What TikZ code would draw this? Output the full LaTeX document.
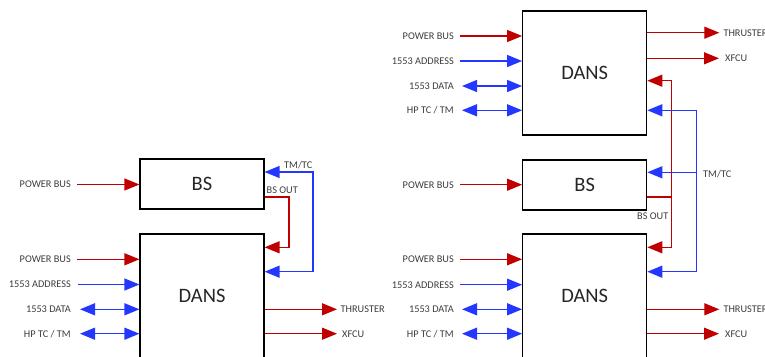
\documentclass[tikz,border=0pt]{standalone}
\usepackage{fontspec}
\setmainfont{Carlito}
\usetikzlibrary{arrows.meta}
\definecolor{myred}{RGB}{192,0,0}
\definecolor{myblue}{RGB}{35,55,255}
\definecolor{txt}{RGB}{60,60,60}
\begin{document}
\begin{tikzpicture}[x=1pt,y=-1pt,
  box/.style={draw=black,line width=1.2pt,inner sep=0,minimum width=124pt,
    font=\fontsize{20.5}{24}\selectfont,text=black!85},
  dbox/.style={box,minimum height=124pt},
  sbox/.style={box,minimum height=50pt},
  lab/.style={font=\fontsize{10.3}{12}\selectfont,text=txt,inner sep=0,
    text height=6.6pt,text depth=0pt},
  tip/.tip={Triangle[length=15pt,width=12pt]},
  redarr/.style={draw=myred,line width=1.3pt,-tip},
  bluearr/.style={draw=myblue,line width=1.3pt,-tip},
  biarr/.style={draw=myblue,line width=1.3pt,tip-tip},
  redline/.style={draw=myred,line width=1.3pt},
]
\useasboundingbox (0,0) rectangle (765,356);
\clip (0,0) rectangle (765,356);

% ---------------- left diagram ----------------
\node[sbox] (bs1) at (202,184) {BS};
\node[dbox] (dans1) at (202,296) {DANS};

\node[lab,anchor=east] (lp0) at (71,184.5) {POWER BUS};
\draw[redarr] ([xshift=6pt]lp0.east) -- (lp0.east -| bs1.west);

\node[lab,anchor=east] (lp1) at (71,259.3) {POWER BUS};
\node[lab,anchor=east] (la1) at (71,284.5) {1553 ADDRESS};
\node[lab,anchor=east] (ld1) at (71,309.3) {1553 DATA};
\node[lab,anchor=east] (lh1) at (71,333.7) {HP TC / TM};
\draw[redarr] ([xshift=6pt]lp1.east) -- (lp1.east -| dans1.west);
\draw[bluearr] ([xshift=7pt]la1.east) -- (la1.east -| dans1.west);
\draw[biarr] ([xshift=9pt]ld1.east) -- (ld1.east -| dans1.west);
\draw[biarr] ([xshift=9pt]lh1.east) -- (lh1.east -| dans1.west);

\node[lab,anchor=west] (lt1) at (340.5,309.3) {THRUSTER};
\node[lab,anchor=west] (lx1) at (342,333.7) {XFCU};
\draw[redarr] (lt1.west -| dans1.east) -- ([xshift=-3.5pt]lt1.west);
\draw[redarr] (lx1.west -| dans1.east) -- ([xshift=-5pt]lx1.west);

\coordinate (lr1) at (289,197);
\coordinate (lr2) at (289,247.3);
\draw[redarr] (lr1 -| bs1.east) -- (lr1) -- (lr2) -- (lr2 -| dans1.east);
\node[lab,anchor=south west] (lbo) at (266.5,193.3) {BS OUT};

\coordinate (lb1) at (313,172);
\coordinate (lb2) at (313,271.7);
\draw[biarr] (lb1 -| bs1.east) -- (lb1) -- (lb2) -- (lb2 -| dans1.east);
\node[lab,anchor=south east] (ltm) at (312.5,168.6) {TM/TC};

% ---------------- right diagram ----------------
\node[dbox] (dans2) at (584.7,73) {DANS};
\node[sbox] (bs2) at (584.7,185) {BS};
\node[dbox] (dans3) at (584.7,296) {DANS};

\node[lab,anchor=east] (rp2) at (454,36) {POWER BUS};
\node[lab,anchor=east] (ra2) at (454,61) {1553 ADDRESS};
\node[lab,anchor=east] (rd2) at (454,86) {1553 DATA};
\node[lab,anchor=east] (rh2) at (454,110.3) {HP TC / TM};
\draw[redarr] ([xshift=6pt]rp2.east) -- (rp2.east -| dans2.west);
\draw[bluearr] ([xshift=6pt]ra2.east) -- (ra2.east -| dans2.west);
\draw[biarr] ([xshift=8pt]rd2.east) -- (rd2.east -| dans2.west);
\draw[biarr] ([xshift=8pt]rh2.east) -- (rh2.east -| dans2.west);

\node[lab,anchor=west] (rt2) at (723.3,32.7) {THRUSTER};
\node[lab,anchor=west] (rx2) at (725,58.3) {XFCU};
\draw[redarr] (rt2.west -| dans2.east) -- ([xshift=-4pt]rt2.west);
\draw[redarr] (rx2.west -| dans2.east) -- ([xshift=-6pt]rx2.west);

\node[lab,anchor=east] (rpb) at (454,184.7) {POWER BUS};
\draw[redarr] ([xshift=6pt]rpb.east) -- (rpb.east -| bs2.west);

\node[lab,anchor=east] (rp3) at (454,259.3) {POWER BUS};
\node[lab,anchor=east] (ra3) at (454,284.7) {1553 ADDRESS};
\node[lab,anchor=east] (rd3) at (454,309.3) {1553 DATA};
\node[lab,anchor=east] (rh3) at (454,333.7) {HP TC / TM};
\draw[redarr] ([xshift=6pt]rp3.east) -- (rp3.east -| dans3.west);
\draw[bluearr] ([xshift=6pt]ra3.east) -- (ra3.east -| dans3.west);
\draw[biarr] ([xshift=8pt]rd3.east) -- (rd3.east -| dans3.west);
\draw[biarr] ([xshift=8pt]rh3.east) -- (rh3.east -| dans3.west);

\node[lab,anchor=west] (rt3) at (723.3,309.3) {THRUSTER};
\node[lab,anchor=west] (rx3) at (725,333.7) {XFCU};
\draw[redarr] (rt3.west -| dans3.east) -- ([xshift=-4pt]rt3.west);
\draw[redarr] (rx3.west -| dans3.east) -- ([xshift=-6pt]rx3.west);

% red BS OUT bus
\coordinate (rr1) at (671.7,80.7);
\coordinate (rr2) at (671.7,247.3);
\coordinate (rr3) at (671.7,197);
\draw[redarr] (rr1) -- (rr1 -| dans2.east);
\draw[redarr] (rr1) -- (rr2) -- (rr2 -| dans3.east);
\draw[redline] (rr3 -| bs2.east) -- (rr3);
\node[lab,anchor=east] (rbo) at (668.5,215.7) {BS OUT};

% blue TM/TC bus
\coordinate (rb1) at (696.3,110.3);
\coordinate (rb2) at (696.3,271.7);
\coordinate (rb3) at (696.3,172.3);
\draw[bluearr] (rb1) -- (rb1 -| dans2.east);
\draw[bluearr] (rb1) -- (rb2) -- (rb2 -| dans3.east);
\draw[bluearr] (rb3) -- (rb3 -| bs2.east);
\node[lab,anchor=west] (rtm) at (703,173.8) {TM/TC};
\end{tikzpicture}
\end{document}
